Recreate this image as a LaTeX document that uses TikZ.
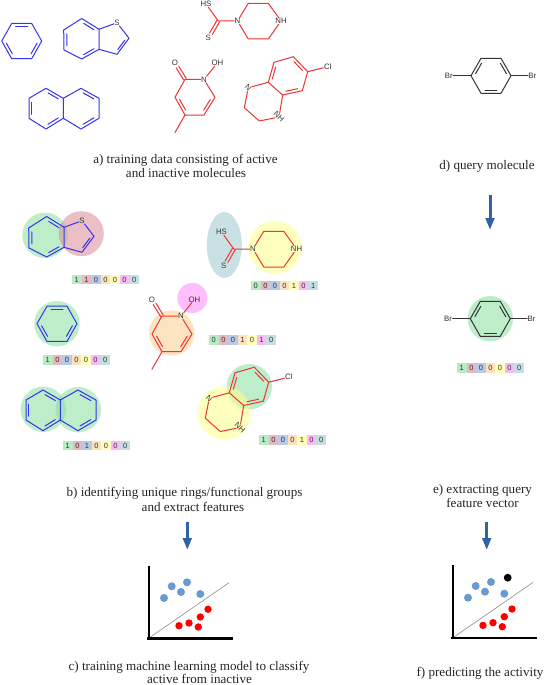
\documentclass[tikz,border=0pt]{standalone}
\usepackage{fontspec}
\setmainfont{Liberation Serif}
\newfontfamily\atomfont{Liberation Sans}
\usetikzlibrary{calc,arrows.meta}
\definecolor{molblue}{HTML}{3434EE}
\definecolor{molred}{HTML}{EE3434}
\definecolor{moldark}{HTML}{333333}
\definecolor{blobgreen}{HTML}{8ADF9D}
\definecolor{blobpink}{HTML}{DA8A94}
\definecolor{blobblue}{HTML}{8AA8D8}
\definecolor{bloborange}{HTML}{FCCF8F}
\definecolor{blobyellow}{HTML}{FFFF8A}
\definecolor{blobmag}{HTML}{FC8AF8}
\definecolor{blobteal}{HTML}{9DCACF}
\definecolor{arrowblue}{HTML}{2F62A6}
\definecolor{dotblue}{HTML}{6A9AD0}
\tikzset{
  bond/.style={line width=1pt,line cap=round,line join=round},
  atom/.style={font=\atomfont\fontsize{7.8}{8}\selectfont,text=moldark,inner sep=0.6pt,outer sep=0pt},
  caption/.style={font=\fontsize{13.1}{14}\selectfont,text=black!85,anchor=base,inner sep=0pt},
  blob/.style={fill opacity=0.55,draw=none},
  cell/.style={minimum width=9.55pt,minimum height=9.3pt,inner sep=0pt,font=\atomfont\fontsize{7.5}{7.5}\selectfont,text=moldark,fill opacity=0.6,text opacity=1},
  flow/.style={draw=arrowblue,line width=3pt,-{Triangle[length=12pt,width=8.5pt,fill=arrowblue]}},
  axisline/.style={line width=2.2pt,draw=black},
  sepline/.style={line width=0.7pt,draw=gray!80},
}
% inner line of a ring double bond: #1,#2 bond ends, #3 ring centre
\newcommand\innerbond[3]{\draw ($(#1)!.14!(#2)!.17!(#3)$) -- ($(#2)!.14!(#1)!.17!(#3)$);}
\newcommand\molbenzene[1]{\begin{scope}[bond,#1]
  \coordinate (O) at (21.7,41);
  \coordinate (a) at (1.7,41); \coordinate (b) at (11.7,23.5); \coordinate (c) at (31.7,23.5);
  \coordinate (d) at (41.7,41); \coordinate (e) at (31.7,58.7); \coordinate (f) at (11.7,58.7);
  \draw (a)--(b)--(c)--(d)--(e)--(f)--cycle;
  \innerbond{b}{c}{O}\innerbond{a}{f}{O}\innerbond{d}{e}{O}
\end{scope}}
\newcommand\molthio[1]{\begin{scope}[bond,#1]
  \coordinate (O) at (81.5,39.5);
  \coordinate (a) at (63.7,30); \coordinate (b) at (81.7,18.5); \coordinate (c) at (99,29.3);
  \coordinate (d) at (99,49.3); \coordinate (e) at (81.7,59); \coordinate (f) at (64,50);
  \coordinate (g) at (129,38.3); \coordinate (h) at (117,54.3); \coordinate (P) at (113,38);
  \node[atom] (S) at (117,22.7) {S};
  \draw (a)--(b)--(c)--(d)--(e)--(f)--cycle;
  \draw (c)--(S)--(g)--(h)--(d);
  \innerbond{a}{f}{O}\innerbond{b}{c}{O}\innerbond{e}{d}{O}\innerbond{g}{h}{P}
\end{scope}}
\newcommand\molnaph[1]{\begin{scope}[bond,#1]
  \coordinate (O) at (46,108.5); \coordinate (P) at (81,108.5);
  \coordinate (a) at (29,98.3); \coordinate (b) at (46,88.3); \coordinate (c) at (63.3,98.3);
  \coordinate (d) at (63.3,118.3); \coordinate (e) at (46,129); \coordinate (f) at (29,118.3);
  \coordinate (g) at (81,88.3); \coordinate (h) at (99,98.3); \coordinate (i) at (99,118.3); \coordinate (j) at (81,129);
  \draw (a)--(b)--(c)--(d)--(e)--(f)--cycle;
  \draw (c)--(g)--(h)--(i)--(j)--(d);
  \innerbond{a}{f}{O}\innerbond{b}{c}{O}\innerbond{e}{d}{O}\innerbond{g}{h}{P}\innerbond{i}{j}{P}
\end{scope}}
\newcommand\molpip[1]{\begin{scope}[bond,#1]
  \node[atom] (N) at (237.5,21) {N};
  \node[atom] (NH) at (281,21) {NH};
  \node[atom] (HS) at (206,4) {HS};
  \node[atom] (SS) at (208.3,38.3) {S};
  \coordinate (C) at (218.3,21);
  \coordinate (a) at (248.3,3.3); \coordinate (b) at (268.3,3.3);
  \coordinate (d) at (268.3,39); \coordinate (e) at (248.3,39);
  \draw (N)--(a)--(b)--(NH)--(d)--(e)--(N);
  \draw (N)--(C)--(HS);
  \draw (219.6,21.8)--(212.4,34.4);
  \draw (217.0,20.2)--(209.6,33.0);
\end{scope}}
\newcommand\molpyr[1]{\begin{scope}[bond,#1]
  \coordinate (O) at (195,97.5);
  \node[atom] (N) at (204,79.5) {N};
  \node[atom] (OX) at (175,62.7) {O};
  \node[atom] (OH) at (217.5,62.7) {OH};
  \coordinate (a) at (185,79.3); \coordinate (b) at (175,97.3); \coordinate (c) at (185,115);
  \coordinate (d) at (204,115); \coordinate (e) at (215,97.3); \coordinate (m) at (175,132.5);
  \draw (N)--(a)--(b)--(c)--(d)--(e)--(N);
  \draw (c)--(m); \draw (N)--(OH);
  \draw (186.3,78.5)--(178.8,66.3);
  \draw (183.7,80.0)--(176.2,67.8);
  \innerbond{b}{c}{O}\innerbond{d}{e}{O}
\end{scope}}
\newcommand\moldiaz[1]{\begin{scope}[bond,#1]
  \coordinate (O) at (288,76);
  \node[atom,rotate=-45] (N) at (248.3,87.7) {N};
  \node[atom,rotate=-45] (NH) at (279,117) {NH};
  \node[atom] (Cl) at (327.7,66.7) {Cl};
  \coordinate (a) at (244.3,107.7); \coordinate (b) at (259.3,121);
  \coordinate (c) at (282.7,95); \coordinate (d) at (268.3,82.3);
  \coordinate (e) at (274,62.3); \coordinate (f) at (293.3,56.7);
  \coordinate (g) at (307.7,71.7); \coordinate (h) at (302.3,90.7);
  \draw (N)--(a)--(b)--(NH)--(c)--(d)--(N);
  \draw (d)--(e)--(f)--(g)--(h)--(c);
  \draw (g)--(Cl);
  \innerbond{e}{d}{O}\innerbond{f}{g}{O}\innerbond{h}{c}{O}
\end{scope}}
\newcommand\molbr[1]{\begin{scope}[bond,#1]
  \coordinate (O) at (491,75.7);
  \coordinate (a) at (471,75.7); \coordinate (b) at (481,58.3); \coordinate (c) at (501,58.3);
  \coordinate (d) at (511,75.7); \coordinate (e) at (501,93.3); \coordinate (f) at (481,93.3);
  \node[atom] (BrL) at (448.7,75.7) {Br};
  \node[atom] (BrR) at (532.3,75.7) {Br};
  \draw (a)--(b)--(c)--(d)--(e)--(f)--cycle;
  \draw (BrL)--(a); \draw (d)--(BrR);
  \innerbond{a}{b}{O}\innerbond{c}{d}{O}\innerbond{e}{f}{O}
\end{scope}}
% feature vector: centre of first cell (x,y), then seven bits
\newcommand\fvecrow[9]{%
  \foreach \i/\col/\bit in {0/blobgreen/#3,1/blobpink/#4,2/blobblue/#5,3/bloborange/#6,4/blobyellow/#7,5/blobmag/#8,6/blobteal/#9}
    {\node[cell,fill=\col] (v#1-\i) at ($(#1,#2)+(\i*9.55,0)$) {\bit};}}
\newcommand\plotbase[1]{\begin{scope}[#1]
  \coordinate (ytop) at (149,565.5); \coordinate (org) at (149,638.5); \coordinate (xend) at (233.3,638.5);
  \coordinate (xstart) at (146.8,638.5);
  \coordinate (ls) at (150,637.3); \coordinate (le) at (229,582.7);
  \draw[sepline] (ls)--(le);
  \draw[axisline] (ytop)--(org);
  \draw[axisline] (xstart)--(xend);
  \foreach \p in {(164,598),(171.7,586.3),(181,592),(187,582.3),(200.3,594)} \fill[dotblue] \p circle[radius=4pt];
  \foreach \p in {(179,625.7),(189,623),(198.3,627),(200.3,617),(208,609.3)} \fill[red] \p circle[radius=3.7pt];
\end{scope}}
\begin{document}
\begin{tikzpicture}[x=1pt,y=-1pt]
\useasboundingbox (0,0) rectangle (545,685);
\fill[white] (0,0) rectangle (545,685);
% a) training data
\molbenzene{molblue}
\molthio{molblue}
\molnaph{molblue}
\molpip{molred}
\molpyr{molred}
\moldiaz{molred}
\node[caption] (capa1) at (185.5,163) {a) training data consisting of active};
\node[caption] (capa2) at (186,177) {and inactive molecules};
% b) blobs
\fill[blob,blobgreen] (45,235.3) circle[radius=22.7pt];
\fill[blob,blobpink] (81.3,233.7) circle[radius=22.5pt];
\fill[blob,blobgreen] (57,323.7) circle[radius=22.7pt];
\fill[blob,blobgreen] (43.3,409.3) circle[radius=22.7pt];
\fill[blob,blobgreen] (78.3,409.7) circle[radius=22.7pt];
\fill[blob,blobteal] (224.3,245) circle[x radius=17.5pt,y radius=33pt];
\fill[blob,blobyellow] (275,247.3) circle[radius=26.6pt];
\fill[blob,bloborange] (171.7,333) circle[radius=22.7pt];
\fill[blob,blobmag] (192.3,298) circle[radius=15pt];
\fill[blob,blobgreen] (249.3,386.7) circle[radius=22.7pt];
\fill[blob,blobyellow] (224.3,413) circle[radius=26.7pt];
% b) molecules
\molthio{molblue,shift={(-35,198)}}
\molbenzene{molblue,shift={(35.3,282.7)}}
\molnaph{molblue,shift={(-3,301.7)}}
\molpip{molred,shift={(15.5,228)}}
\molpyr{molred,shift={(-23,236.7)}}
\moldiaz{molred,shift={(-39,310.5)}}
% vectors
\fvecrow{76.8}{279.7}{1}{1}{0}{0}{0}{0}{0}
\fvecrow{47.8}{360}{1}{0}{0}{0}{0}{0}{0}
\fvecrow{67.8}{445.7}{1}{0}{1}{0}{0}{0}{0}
\fvecrow{213.8}{340}{0}{0}{0}{1}{0}{1}{0}
\fvecrow{255.8}{285.7}{0}{0}{0}{0}{1}{0}{1}
\fvecrow{263.8}{440}{1}{0}{0}{0}{1}{0}{0}
\fvecrow{461.8}{368}{1}{0}{0}{0}{0}{0}{0}
\node[caption] (capb1) at (184.5,496) {b) identifying unique rings/functional groups};
\node[caption] (capb2) at (193,511) {and extract features};
% c) model
\coordinate (arrcs) at (187.3,521.5); \coordinate (arrce) at (187.3,550);
\draw[flow] (arrcs)--(arrce);
\plotbase{}
\node[caption] (capc1) at (189,670) {c) training machine learning model to classify};
\node[caption] (capc2) at (199.5,683.5) {active from inactive};
% d) query
\molbr{moldark}
\node[caption] (capd) at (487,169) {d) query molecule};
\coordinate (arrds) at (490,195); \coordinate (arrde) at (490,230);
\draw[flow] (arrds)--(arrde);
% e) feature vector
\fill[blob,blobgreen] (490.3,318.7) circle[radius=22.7pt];
\molbr{moldark,shift={(-0.7,243)}}
\node[caption] (cape1) at (482.5,493) {e) extracting query};
\node[caption] (cape2) at (482.5,507) {feature vector};
% f) prediction
\coordinate (arrfs) at (486.7,521.5); \coordinate (arrfe) at (486.7,550);
\draw[flow] (arrfs)--(arrfe);
\plotbase{shift={(304,-0.3)}}
\fill[black] (507.7,577.7) circle[radius=3.9pt];
\node[caption] (capf) at (480,676) {f) predicting the activity};
\end{tikzpicture}
\end{document}
